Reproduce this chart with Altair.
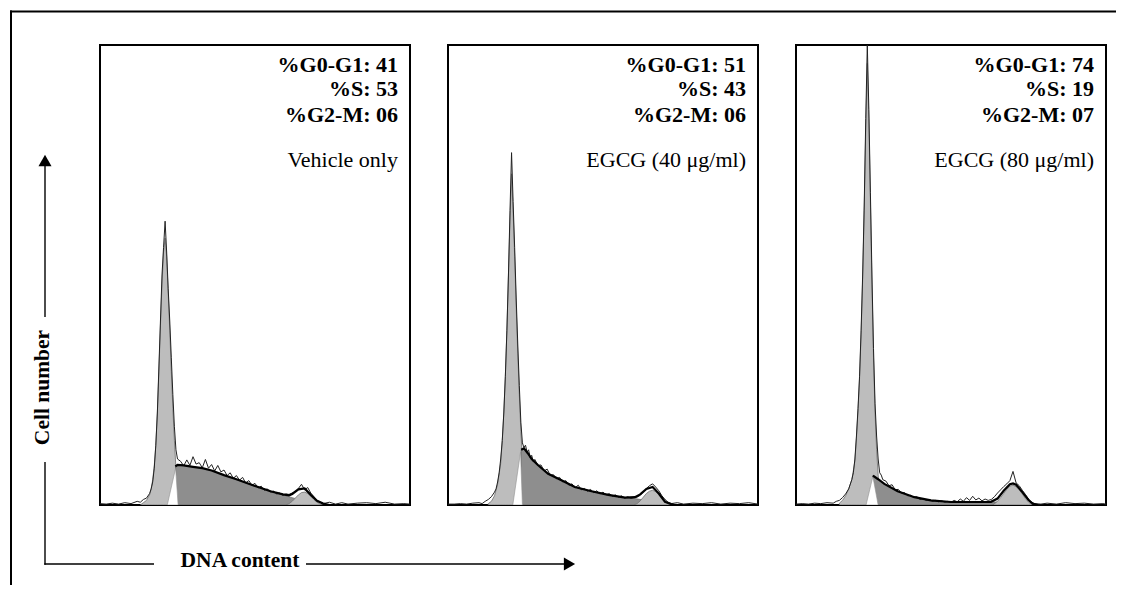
import altair as alt
import pandas as pd

# ---------------- data ----------------
G1_PCT = ["41", "51", "74"]
S_PCT = ["53", "43", "19"]
G2M_PCT = ["06", "06", "07"]
TREATMENTS = ["Vehicle only", "EGCG (40 \u03bcg/ml)", "EGCG (80 \u03bcg/ml)"]
Y_TITLE = "Cell number"
X_TITLE = "DNA content"

# (channel, % of panel height)
P1_HIST = [(0, 0.3), (2, 0.2), (4, 0.4), (6, 0.2), (8, 0.5), (10, 0.3), (12, 0.8), (13, 0.6),
           (14, 1.2), (15, 1.5), (16, 2.5), (16.5, 3.5), (17, 5), (17.5, 8), (18, 13), (18.5, 20),
           (19, 30), (19.5, 40), (20, 50), (20.5, 56), (21, 61.7), (21.5, 55), (22, 47), (22.5, 40),
           (23, 32), (23.5, 24), (24, 17), (24.5, 12), (25, 10), (26, 9.5), (27, 8.5), (28, 9.8),
           (29, 8.6), (30, 10.5), (31, 8.9), (32, 9.2), (33, 8.1), (34, 9.9), (35, 8.0), (36, 8.8),
           (37, 7.4), (38, 8.6), (39, 7.2), (40, 7.6), (41, 6.4), (42, 7.0), (43, 5.8), (44, 6.4),
           (45, 5.4), (46, 6.0), (47, 4.8), (48, 5.3), (49, 4.3), (50, 4.7), (51, 3.7), (52, 4.1),
           (53, 3.2), (54, 3.5), (55, 2.8), (56, 3.0), (57, 2.4), (58, 2.6), (59, 2.1), (60, 2.4),
           (61, 2.3), (62, 2.6), (63, 2.9), (64, 3.6), (65, 4.5), (66, 3.3), (67, 3.8), (68, 2.6),
           (69, 1.8), (70, 1.0), (71, 0.6), (72, 0.3), (74, 0.6), (76, 0.2), (78, 0.5), (80, 0.2),
           (83, 0.4), (86, 0.5), (89, 0.3), (92, 0.6), (95, 0.2), (98, 0.3), (100, 0.2)]
P1_G1 = [(13, 0), (14, 0.5), (15, 1), (16, 2.2), (16.5, 3.5), (17, 5.5), (17.5, 8.5), (18, 13),
         (18.5, 20), (19, 29), (19.5, 39), (20, 48), (20.5, 55), (21, 58), (21.5, 54), (22, 46),
         (22.5, 38), (23, 29), (23.5, 21), (24, 14), (24.5, 8), (25, 4), (25.5, 1.8), (26, 0.7), (27, 0)]
P1_S = [(24.3, 0), (24.4, 8.5), (25, 8.7), (27, 8.6), (30, 8.3), (33, 8.0), (36, 7.5),
        (40, 6.5), (44, 5.6), (48, 4.6), (51, 3.9), (55, 3.0), (59, 2.2), (62, 1.6), (64, 1.2),
        (66, 0.8), (68, 0.3), (69.5, 0)]
P1_GAP = [(21.7, 0), (24.4, 8.0), (25.2, 0)]
P1_G2 = [(60, 0), (61, 0.3), (62, 0.8), (63, 1.5), (64, 2.2), (65, 2.7), (66, 2.8), (67, 2.5),
         (68, 1.9), (69, 1.2), (70, 0.6), (71, 0.2), (72, 0)]
P1_FIT = [(24.3, 8.4), (25, 8.7), (27, 8.6), (30, 8.3), (33, 8.0), (36, 7.5), (40, 6.5), (44, 5.6),
          (48, 4.6), (51, 3.9), (55, 3.0), (59, 2.3), (61, 2.1), (62, 2.4), (64, 3.4), (66, 3.6),
          (68, 2.2), (70, 0.9), (72, 0.3), (74, 0)]

P2_HIST = [(0, 0.2), (2, 0.2), (4, 0.3), (6, 0.2), (8, 0.4), (10, 0.5), (11, 0.3), (12, 0.8),
           (13, 1.2), (14, 1.8), (15, 2.8), (15.5, 3.5), (16, 5), (16.5, 7), (17, 10), (17.5, 14),
           (18, 20), (18.5, 28), (19, 38), (19.5, 50), (20, 64), (20.5, 76.6), (21, 66), (21.5, 56),
           (22, 45), (22.5, 35), (23, 26), (23.5, 18), (24, 13.5), (24.5, 12.5), (25, 13), (25.5, 11.5),
           (26, 12.0), (26.5, 10.3), (27, 10.8), (27.5, 9.4), (28, 9.9), (29, 8.6), (30, 8.7), (31, 7.4),
           (32, 7.8), (33, 6.4), (34, 6.6), (35, 5.7), (36, 6.0), (37, 5.0), (38, 5.3), (39, 4.3),
           (40, 4.6), (41, 3.7), (42, 4.3), (43, 3.3), (44, 3.6), (45, 3.0), (46, 3.4), (47, 2.7),
           (48, 3.1), (49, 2.4), (50, 2.8), (51, 2.2), (52, 2.5), (53, 1.9), (54, 2.2), (55, 1.7),
           (56, 2.0), (57, 1.5), (58, 1.8), (59, 1.4), (60, 1.6), (61, 1.7), (62, 2.1), (63, 2.8),
           (64, 3.6), (65, 4.2), (66, 4.6), (67, 3.9), (68, 3.1), (69, 2.0), (70, 1.2), (71, 0.6),
           (72, 0.3), (74, 0.5), (76, 0.2), (79, 0.4), (82, 0.3), (85, 0.5), (88, 0.2), (91, 0.4),
           (94, 0.3), (97, 0.5), (100, 0.2)]
P2_G1 = [(13, 0.3), (14, 0.8), (15, 2), (16, 4.5), (17, 9), (17.5, 14), (18, 20), (18.5, 28),
         (19, 38), (19.5, 50), (20, 62), (20.5, 72), (21, 64), (21.5, 54), (22, 43), (22.5, 33),
         (23, 24), (23.5, 16), (24, 10), (24.5, 5), (25, 2), (26, 0.5), (27, 0)]
P2_S = [(23.4, 0), (23.6, 12), (24.5, 12.3), (25.8, 11.2), (27, 10), (29, 8.7),
        (32.3, 6.8), (36.6, 5.4), (40.9, 3.9), (46.3, 3.0), (51.7, 2.2), (57.1, 1.6), (60.3, 1.4),
        (63, 1.1), (66, 0.7), (68, 0.3), (70, 0)]
P2_GAP = [(20.9, 0), (23.4, 11.5), (24.0, 0)]
P2_G2 = [(60, 0), (61, 0.3), (62, 0.9), (63, 1.7), (64, 2.5), (65, 3.0), (66, 3.2), (67, 2.9),
         (68, 2.2), (69, 1.4), (70, 0.7), (71, 0.25), (72, 0)]
P2_FIT = [(23.6, 12), (24.5, 12.3), (25.8, 11.2), (27, 10), (29, 8.7), (32.3, 6.8), (36.6, 5.4),
          (40.9, 3.9), (46.3, 3.0), (51.7, 2.2), (57.1, 1.6), (60.3, 1.7), (62, 2.3), (64, 3.5),
          (66, 3.9), (68, 2.5), (70, 0.7), (72, 0.2), (73, 0)]

P3_HIST = [(0, 0.2), (2, 0.3), (4, 0.2), (6, 0.4), (8, 0.3), (10, 0.5), (12, 0.4), (13, 0.8),
           (14, 1.0), (15, 1.6), (16, 2.4), (17, 3.5), (18, 5.5), (18.5, 7), (19, 10), (19.5, 15),
           (20, 21), (20.5, 28), (21, 38), (21.5, 50), (22, 65), (22.5, 84), (23, 100), (23.5, 86),
           (24, 68), (24.5, 50), (25, 34), (25.5, 22), (26, 15), (26.5, 10), (27, 7), (27.5, 6.5),
           (28, 5.5), (29, 5.2), (30, 4.2), (31, 4.4), (32, 3.3), (33, 3.4), (34, 2.6), (35, 2.7),
           (36, 2.0), (37, 2.1), (38, 1.6), (39, 1.8), (40, 1.2), (41, 1.4), (42, 1.0), (43, 1.2),
           (44, 0.8), (45, 1.0), (46, 0.7), (47, 0.9), (48, 0.6), (49, 0.8), (50, 0.6), (51, 1.0),
           (52, 0.7), (53, 1.3), (54, 0.8), (55, 1.6), (56, 1.0), (57, 1.9), (58, 1.1), (59, 1.5),
           (60, 0.9), (61, 1.3), (62, 1.0), (63, 1.2), (64, 1.8), (65, 2.6), (66, 3.3), (67, 4.0),
           (68, 4.6), (69, 5.3), (70, 7.3), (71, 4.8), (72, 4.2), (73, 3.2), (74, 2.3), (75, 1.3),
           (76, 0.6), (77, 0.3), (79, 0.2), (81, 0.4), (84, 0.2), (87, 0.5), (90, 0.3), (93, 0.4),
           (96, 0.2), (99, 0.3), (100, 0.2)]
P3_G1 = [(14, 0.4), (15, 1), (16, 2), (17, 3.5), (18, 5.5), (19, 9.5), (19.5, 14.5), (20, 20.5),
         (20.5, 27.5), (21, 37), (21.5, 49), (22, 64), (22.5, 82), (23, 96), (23.5, 84), (24, 66),
         (24.5, 48), (25, 32), (25.5, 20), (26, 12), (26.5, 6.5), (27, 3), (28, 0.8), (29, 0)]
P3_S = [(24.7, 0), (24.8, 6.4), (25.3, 6.3), (26.5, 5.6), (28.5, 4.6), (32.8, 3.0), (38.2, 1.7),
        (43.5, 1.0), (50, 0.65), (56.5, 0.65), (62.9, 0.7), (66, 0.6), (70, 0.4), (74, 0.15), (76, 0)]
P3_GAP = [(22.6, 0), (24.8, 6.2), (26.5, 0)]
P3_G2 = [(63.5, 0), (65, 0.8), (66, 1.6), (67, 2.5), (68, 3.4), (69, 4.1), (70, 4.3), (71, 4.0),
         (72, 3.3), (73, 2.4), (74, 1.4), (75, 0.6), (76.3, 0)]
P3_FIT = [(24.8, 6.4), (26.5, 5.6), (28.5, 4.6), (32.8, 3.0), (38.2, 1.7), (43.5, 1.0), (50, 0.65),
          (56.5, 0.65), (62.9, 0.7), (65, 1.4), (67, 3.1), (69, 4.5), (70, 4.7), (71, 4.4),
          (73, 2.8), (75, 1.1), (76.3, 0.3), (78, 0)]

PANELS = [
    (P1_HIST, P1_G1, P1_S, P1_GAP, P1_G2, P1_FIT),
    (P2_HIST, P2_G1, P2_S, P2_GAP, P2_G2, P2_FIT),
    (P3_HIST, P3_G1, P3_S, P3_GAP, P3_G2, P3_FIT),
]

# ---------------- styling ----------------
W, H = 310, 460
SERIF = "Liberation Serif"
LIGHT = "#bdbdbd"
DARK = "#8e8e8e"

XS = alt.X("ch:Q", scale=alt.Scale(domain=[0, 100], nice=False, zero=False), axis=None)
YS = alt.Y("n:Q", scale=alt.Scale(domain=[0, 100], nice=False), axis=None)
ONE = pd.DataFrame({"k": [0]})


def df(points):
    return pd.DataFrame(points, columns=["ch", "n"])


def text_layer(label, y, bold):
    return alt.Chart(pd.DataFrame({"label": [label]})).mark_text(
        font=SERIF, fontSize=22, fontWeight="bold" if bold else "normal",
        align="right", baseline="alphabetic", color="black"
    ).encode(x=alt.value(298), y=alt.value(y), text="label:N")


def hrule(x1, x2, y, w):
    return alt.Chart(ONE).mark_rule(color="black", strokeWidth=w).encode(
        x=alt.value(x1), x2=alt.value(x2), y=alt.value(y))


def vrule(x, y1, y2, w):
    return alt.Chart(ONE).mark_rule(color="black", strokeWidth=w).encode(
        x=alt.value(x), y=alt.value(y1), y2=alt.value(y2))


def panel(i):
    hist, g1, s, gap, g2, fit = PANELS[i]
    layers = [
        alt.Chart(df(g1)).mark_area(fill=LIGHT, stroke="#707070", strokeWidth=0.8, clip=True).encode(x=XS, y=YS),
        alt.Chart(df(s)).mark_area(fill=DARK, stroke="#555555", strokeWidth=0.6, clip=True).encode(x=XS, y=YS),
        alt.Chart(df(gap)).mark_area(fill="white", stroke="#909090", strokeWidth=0.6, clip=True).encode(x=XS, y=YS),
        alt.Chart(df(g2)).mark_area(fill=LIGHT, stroke="#707070", strokeWidth=0.8, clip=True).encode(x=XS, y=YS),
        alt.Chart(df(hist)).mark_line(color="#222222", strokeWidth=1, clip=True).encode(x=XS, y=YS),
        alt.Chart(df(fit)).mark_line(color="black", strokeWidth=2.2, clip=True).encode(x=XS, y=YS),
        text_layer(f"%G0-G1: {G1_PCT[i]}", 26.5, True),
        text_layer(f"%S: {S_PCT[i]}", 51, True),
        text_layer(f"%G2-M: {G2M_PCT[i]}", 77, True),
        text_layer(TREATMENTS[i], 122, False),
    ]
    if i == 0:
        # outer frame (top and left edges) and the two axis arrows
        layers += [
            hrule(-90, 1016, -33.5, 2),
            vrule(-89, -34.5, 540, 2),
            vrule(-55, 117, 272, 1.4),
            vrule(-55, 417, 519.7, 1.4),
            hrule(-55.7, 54, 519, 1.4),
            hrule(206, 466, 519, 1.4),
            alt.Chart(ONE).mark_point(shape="triangle-up", filled=True, color="black", size=169, opacity=1).encode(
                x=alt.value(-55), y=alt.value(115.5)),
            alt.Chart(ONE).mark_point(shape="triangle-right", filled=True, color="black", size=169, opacity=1).encode(
                x=alt.value(469.5), y=alt.value(519)),
            alt.Chart(pd.DataFrame({"label": [Y_TITLE]})).mark_text(
                font=SERIF, fontSize=21.5, fontWeight="bold", angle=270, align="center",
                baseline="alphabetic", color="black").encode(
                x=alt.value(-51), y=alt.value(342.5), text="label:N"),
            alt.Chart(pd.DataFrame({"label": [X_TITLE]})).mark_text(
                font=SERIF, fontSize=21.5, fontWeight="bold", align="center",
                baseline="alphabetic", color="black").encode(
                x=alt.value(140), y=alt.value(522), text="label:N"),
        ]
    return alt.layer(*layers).properties(width=W, height=H)


chart = alt.hconcat(panel(0), panel(1), panel(2), spacing=38, bounds="flush").properties(
    padding={"left": 0, "top": 0, "right": 0, "bottom": 0},
    background="white",
).configure_view(stroke="black", strokeWidth=2)

chart.save("out.html", embed_options={"renderer": "svg", "actions": False})
